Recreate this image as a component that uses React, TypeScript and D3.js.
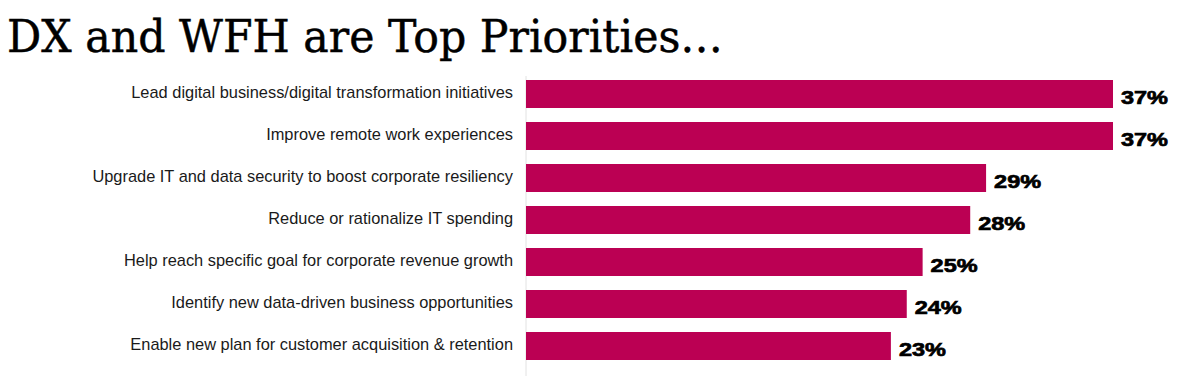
import React from "react";
import * as d3 from "d3";

const categories = [
  "Lead digital business/digital transformation initiatives",
  "Improve remote work experiences",
  "Upgrade IT and data security to boost corporate resiliency",
  "Reduce or rationalize IT spending",
  "Help reach specific goal for corporate revenue growth",
  "Identify new data-driven business opportunities",
  "Enable new plan for customer acquisition & retention",
];
const values = [37, 37, 29, 28, 25, 24, 23];
const title = "DX and WFH are Top Priorities…";

export default function App() {
  const W = 1200;
  const H = 376;
  const x = d3.scaleLinear().domain([0, 37]).range([526, 1113]);
  const y = d3
    .scaleBand<string>()
    .domain(categories)
    .range([73, 367])
    .paddingInner(1 / 3)
    .paddingOuter(1 / 6);
  return (
    <svg
      width={W}
      height={H}
      style={{ position: "absolute", left: 0, top: 0, background: "#fff" }}
    >
      <text
        x={7}
        y={52}
        fontFamily="'DejaVu Serif', 'Liberation Serif', serif"
        fontSize={45}
        fill="#000"
        stroke="#000"
        strokeWidth={0.5}
        textLength={716}
        lengthAdjust="spacingAndGlyphs"
      >
        {title}
      </text>
      <line x1={526} x2={526} y1={76} y2={H} stroke="#e2e2e2" strokeWidth={1} />
      {categories.map((c, i) => {
        const yc = (y(c) as number) + y.bandwidth() / 2;
        return (
          <g key={c}>
            <rect
              x={x(0)}
              y={y(c)}
              width={x(values[i]) - x(0)}
              height={y.bandwidth()}
              fill="#bb0053"
            />
            <text
              x={513}
              y={yc + 4.3}
              textAnchor="end"
              fontFamily="'Liberation Sans', Arial, sans-serif"
              fontSize={16.4}
              fill="#1a1a1a"
            >
              {c}
            </text>
            <text
              x={x(values[i]) + 8}
              y={yc + 9.5}
              fontFamily="'Liberation Sans', Arial, sans-serif"
              fontWeight={700}
              fontSize={19}
              fill="#000"
              stroke="#000"
              strokeWidth={0.7}
              textLength={47}
              lengthAdjust="spacingAndGlyphs"
            >
              {values[i]}%
            </text>
          </g>
        );
      })}
    </svg>
  );
}
